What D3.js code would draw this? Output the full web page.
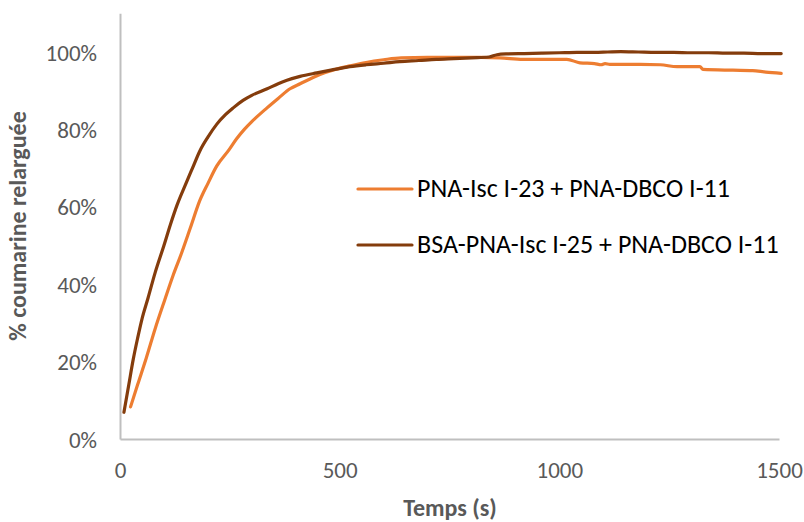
<!DOCTYPE html>
<html><head><meta charset="utf-8">
<script src="https://cdn.jsdelivr.net/npm/d3@7/dist/d3.min.js"></script>
<style>body{margin:0;background:#fff;} svg{display:block;}</style>
</head><body>
<svg id="c" width="804" height="522"></svg>
<script>
// Data (time in s, release in %)
const seriesNames = ["PNA-Isc I-23 + PNA-DBCO I-11", "BSA-PNA-Isc I-25 + PNA-DBCO I-11"];
const seriesColors = ["#ED7D31", "#843C0C"];
const orangeT = [24,40,60,80,102,120,140,160,182,200,220,248,265,283,300,334,360,387,410,455,490,523,560,600,640,700,760,820,865,917,960,1017,1047,1080,1095,1104,1115,1184,1230,1268,1320,1327,1395,1440,1470,1505];
const orangeV = [8.3,14,21,28.5,36,42,48,54.5,61.7,66,70.5,74.7,77.5,80,82,85.5,88,90.5,91.8,94.2,95.5,96.4,97.3,98.0,98.5,98.6,98.6,98.6,98.5,98.1,98.1,98.1,97.2,97.0,96.7,97.0,96.8,96.8,96.7,96.2,96.2,95.5,95.3,95.2,94.8,94.5];
const darkT = [9,20,30,40,50,64,80,100,115,130,150,165,182,200,220,240,257,280,300,335,360,380,410,448,480,523,560,600,637,680,720,760,800,840,858,880,920,960,1000,1040,1080,1110,1140,1180,1220,1260,1300,1340,1380,1420,1460,1505];
const darkV = [6.9,14,20.5,26,31,36.5,43,50,55.5,60.5,66,70,74.5,78,81.3,83.8,85.5,87.5,88.8,90.5,91.8,92.7,93.7,94.6,95.3,96.2,96.7,97.1,97.5,97.8,98.1,98.3,98.5,98.7,99.3,99.5,99.6,99.7,99.8,99.9,99.9,100.0,100.1,100.0,99.9,99.9,99.8,99.8,99.7,99.7,99.6,99.6];
const xTicks = [0,500,1000,1500];
const yTicks = [0,20,40,60,80,100];
const xTitle = "Temps (s)";
const yTitle = "% coumarine relarguée";

const svg = d3.select("#c");
const x = d3.scaleLinear().domain([0,1500]).range([120,779]);
const y = d3.scaleLinear().domain([0,110]).range([439,13.3]);
const FONT = "Carlito, Lato, 'Open Sans', sans-serif";

// axes
const xAxis = d3.axisBottom(x).tickValues(xTicks).tickSize(0).tickPadding(0).tickFormat(d3.format("d"));
const gx = svg.append("g").attr("transform","translate(0,439)").call(xAxis);
gx.select(".domain").attr("stroke","#BFBFBF").attr("stroke-width",2);
gx.selectAll("text").attr("font-family",FONT).attr("font-size",23).attr("fill","#595959").attr("dy",null).attr("y",39);

const yAxis = d3.axisLeft(y).tickValues(yTicks).tickSize(0).tickPadding(0).tickFormat(d => d + "%");
const gy = svg.append("g").attr("transform","translate(120,0)").call(yAxis);
gy.select(".domain").attr("stroke","#BFBFBF").attr("stroke-width",2);
gy.selectAll("text").attr("font-family",FONT).attr("font-size",23).attr("fill","#595959").attr("x",-23).attr("dy","0.35em");

// lines
const line = d3.line().x(d => x(d[0])).y(d => y(d[1])).curve(d3.curveMonotoneX);
const data = [d3.zip(orangeT, orangeV), d3.zip(darkT, darkV)];
data.forEach((s,i) => {
  svg.append("path").datum(s).attr("d", line).attr("fill","none")
    .attr("stroke", seriesColors[i]).attr("stroke-width",3.2)
    .attr("stroke-linejoin","round").attr("stroke-linecap","round");
});

// legend
const legY = [189, 245];
seriesNames.forEach((n,i) => {
  svg.append("line").attr("x1",358).attr("x2",412).attr("y1",legY[i]).attr("y2",legY[i])
    .attr("stroke",seriesColors[i]).attr("stroke-width",3.2).attr("stroke-linecap","round");
  svg.append("text").attr("x",417).attr("y",legY[i]+8).text(n)
    .attr("font-family",FONT).attr("font-size",26).attr("fill","#000");
});

// titles
svg.append("text").attr("x",450).attr("y",516).attr("text-anchor","middle").text(xTitle)
  .attr("font-family",FONT).attr("font-size",24).attr("font-weight","bold").attr("fill","#595959");
svg.append("text").attr("transform","translate(26,226) rotate(-90)").attr("text-anchor","middle").text(yTitle)
  .attr("font-family",FONT).attr("font-size",24).attr("font-weight","bold").attr("fill","#595959");
</script>
</body></html>
